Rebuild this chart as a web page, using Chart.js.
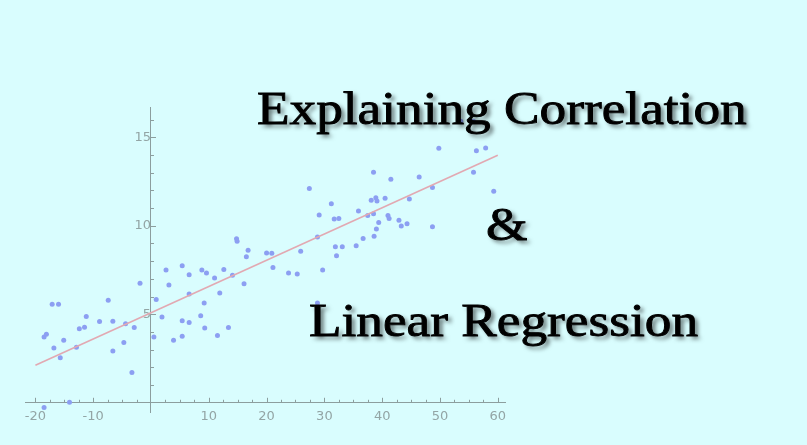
<!DOCTYPE html>
<html>
<head>
<meta charset="utf-8">
<script src="https://cdn.jsdelivr.net/npm/chart.js@4.4.0/dist/chart.umd.min.js"></script>
<style>
  html, body { margin: 0; padding: 0; background: #d9fdfe; }
  #wrap { position: relative; width: 807px; height: 445px; overflow: hidden; }
  canvas { position: absolute; left: 0; top: 0; }
  .t {
    position: absolute;
    font-family: "Liberation Serif", serif;
    font-size: 46px;
    line-height: 46px;
    color: #000;
    white-space: nowrap;
    transform-origin: left top;
    transform: scaleX(1.158);
    -webkit-text-stroke: 0.9px #000;
    text-shadow: 3px 3px 4px rgba(0, 0, 0, 0.55);
  }
</style>
</head>
<body>
<div id="wrap">
  <canvas id="chart" width="807" height="445"></canvas>
  <div class="t" style="left:257px;top:86px">Explaining Correlation</div>
  <div class="t" style="left:486px;top:202px">&amp;</div>
  <div class="t" style="left:309px;top:298px">Linear Regression</div>
</div>
<script>
// scatter values
const pointsX = [-17.1, -16.0, -18.5, -18.1, -16.8, -15.7, -15.1, -12.9, -12.4, -11.5,
    -11.2, -8.9, -7.4, -6.6, -6.6, -4.7, -4.4, -2.9, -3.3, -1.9,
    0.5, 0.9, 1.9, 2.6, 3.1, 3.9, 5.4, 5.4, 5.4, -14.1,
    -18.5, 6.6, 8.8, 9.6, 11.0, 12.6, 14.1, 16.5, 16.1, 21.1,
    23.8, 25.3, 29.7, 32.1, 6.6, 11.9, 9.2, 8.6, 6.6, 9.3,
    13.4, 11.5, 28.8, 27.4, 31.2, 29.1, 31.7, 32.5, 14.8, 14.9,
    16.8, 20.0, 20.9, 25.9, 28.8, 31.9, 33.1, 35.9, 38.5, 41.5,
    46.4, 49.8, 48.7, 44.7, 40.5, 38.1, 38.9, 39.1, 37.5, 38.5,
    41.0, 41.2, 42.9, 43.3, 44.3, 48.7, 39.4, 39.0, 36.7, 38.6,
    35.5, 55.8, 59.3, 53.6, 55.8, 56.3, 57.9];
const pointsY = [5.56, 5.56, 3.72, 3.87, 3.10, 2.55, 3.53, 3.14, 4.19, 4.27,
    4.87, 4.59, 5.79, 4.60, 2.93, 3.40, 4.47, 4.25, 1.71, 6.75,
    3.72, 5.83, 4.85, 7.50, 6.66, 3.53, 7.74, 4.64, 3.76, 0.03,
    -0.27, 7.24, 7.50, 7.33, 7.05, 7.53, 7.20, 8.25, 6.73, 7.64,
    7.33, 7.28, 7.50, 8.31, 6.15, 6.20, 5.64, 4.92, 4.53, 4.22,
    4.25, 3.80, 5.64, 12.11, 11.25, 10.61, 10.38, 10.41, 9.27, 9.12,
    8.62, 8.46, 8.45, 8.56, 9.37, 8.81, 8.82, 10.84, 13.02, 12.63,
    12.75, 14.38, 12.16, 11.51, 11.55, 11.44, 11.59, 11.40, 10.58, 10.68,
    10.58, 10.41, 10.31, 9.99, 10.11, 9.95, 10.18, 9.82, 9.28, 9.41,
    8.87, 13.02, 11.95, 15.90, 15.90, 14.24, 14.39];

// fitted line end points
const lineX = [-20, 60];
const lineY = [2.12, 13.98];

// axis label steps
const xLabelStep = 10;
const yLabelStep = 5;
const xMinorStep = 2.5;
const yMinorStep = 1;

const axisColor = "#8c9e9e";
const labelColor = "#93a5a5";

// inward tick marks like the original
const innerTicks = {
    id: "innerTicks",
    beforeDatasetsDraw(chart) {
        const ctx = chart.ctx;
        const xs = chart.scales.x, ys = chart.scales.y;
        const y0 = ys.getPixelForValue(0);
        const x0 = xs.getPixelForValue(0);
        ctx.save();
        ctx.strokeStyle = axisColor;
        ctx.lineWidth = 1;
        ctx.beginPath();
        for (let v = Math.ceil(xs.min / xMinorStep) * xMinorStep; v <= xs.max; v += xMinorStep) {
            if (Math.abs(v) < 1e-9) continue;
            const px = Math.round(xs.getPixelForValue(v)) + 0.5;
            const len = Math.abs(v % xLabelStep) < 1e-9 ? 5 : 3;
            ctx.moveTo(px, y0);
            ctx.lineTo(px, y0 - len);
        }
        for (let v = Math.ceil(ys.min / yMinorStep) * yMinorStep; v <= ys.max; v += yMinorStep) {
            if (Math.abs(v) < 1e-9) continue;
            const py = Math.round(ys.getPixelForValue(v)) + 0.5;
            const len = Math.abs(v % yLabelStep) < 1e-9 ? 5 : 3;
            ctx.moveTo(x0, py);
            ctx.lineTo(x0 + len, py);
        }
        ctx.stroke();
        ctx.restore();
    }
};

new Chart(document.getElementById("chart"), {
    type: "scatter",
    data: {
        datasets: [
            {
                type: "line",
                data: lineX.map((x, i) => ({ x: x, y: lineY[i] })),
                borderColor: "#e2a9b2",
                borderWidth: 1.6,
                pointRadius: 0,
                fill: false
            },
            {
                data: pointsX.map((x, i) => ({ x: x, y: pointsY[i] })),
                backgroundColor: "#8c9ff2",
                borderWidth: 0,
                pointRadius: 2.5
            }
        ]
    },
    options: {
        responsive: false,
        animation: false,
        layout: { padding: { left: 25, right: 302, top: 107, bottom: 33 } },
        plugins: {
            legend: { display: false },
            tooltip: { enabled: false }
        },
        scales: {
            x: {
                type: "linear",
                position: { y: 0 },
                min: -21.8,
                max: 61.25,
                grid: { display: true, drawOnChartArea: false, drawTicks: false },
                border: { display: true, color: axisColor, width: 1 },
                ticks: {
                    stepSize: xLabelStep,
                    includeBounds: false,
                    padding: 6,
                    color: labelColor,
                    font: { family: "DejaVu Sans", size: 13 },
                    maxRotation: 0,
                    callback: v => (v === 0 ? "" : v)
                }
            },
            y: {
                type: "linear",
                position: { x: 0 },
                min: -0.52,
                max: 16.71,
                grid: { display: true, drawOnChartArea: false, drawTicks: false },
                border: { display: true, color: axisColor, width: 1 },
                ticks: {
                    stepSize: yLabelStep,
                    includeBounds: false,
                    padding: 4,
                    color: labelColor,
                    font: { family: "DejaVu Sans", size: 13 },
                    callback: v => (v === 0 ? "" : v)
                }
            }
        }
    },
    plugins: [innerTicks]
});
</script>
</body>
</html>
